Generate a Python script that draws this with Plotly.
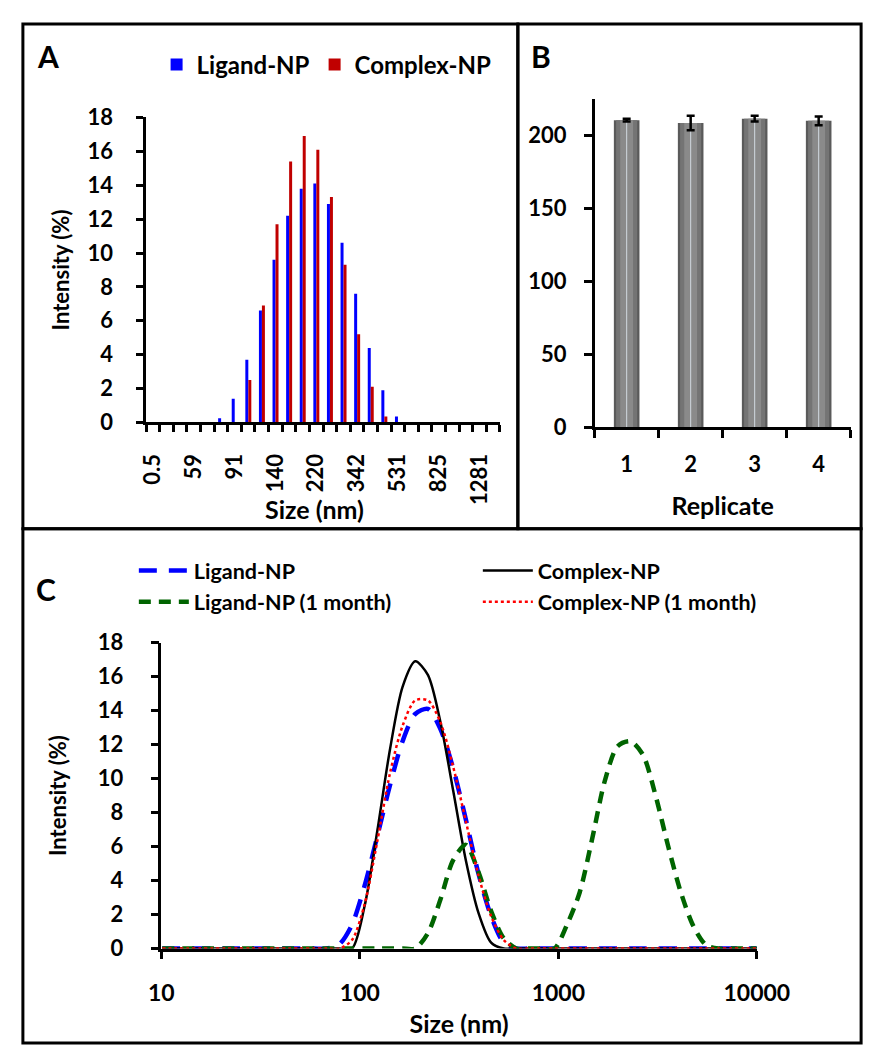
import plotly.graph_objects as go

W, H = 888, 1050
FONT = "Lato, 'Open Sans', sans-serif"

# ---------------- Panel A data ----------------
size_categories = ["0.5", "44", "51", "59", "68", "79", "91", "106", "122", "140",
                   "164", "190", "220", "255", "295", "342", "396", "459", "531",
                   "615", "712", "825", "955", "1106", "1281", "1484"]
ligand_A = [0, 0, 0, 0, 0, 0.25, 1.4, 3.7, 6.6, 9.6, 12.2, 13.8, 14.1, 12.9,
            10.6, 7.6, 4.4, 1.9, 0.35, 0, 0, 0, 0, 0, 0, 0]
complex_A = [0, 0, 0, 0, 0, 0, 0, 2.5, 6.9, 11.7, 15.4, 16.9, 16.1, 13.3,
             9.3, 5.2, 2.1, 0.35, 0, 0, 0, 0, 0, 0, 0, 0]

# ---------------- Panel B data ----------------
replicates = ["1", "2", "3", "4"]
replicate_size = [210.5, 208.5, 211.5, 210.0]
replicate_err = [1.0, 5.0, 2.0, 3.0]

# ---------------- Panel C data ----------------
sizes_C = [10.1, 11.7, 13.54, 15.69, 18.17, 21.04, 24.36, 28.21, 32.67, 37.84,
           43.82, 50.75, 58.77, 68.06, 78.82, 91.28, 105.7, 122.4, 141.8, 164.2,
           190.1, 220.2, 255.0, 295.3, 342.0, 396.1, 458.7, 531.2, 615.1, 712.4,
           825.0, 955.4, 1106, 1281, 1484, 1718, 1990, 2305, 2669, 3091,
           3580, 4145, 4801, 5560, 6439, 7456, 8635, 10000]
ligand_C = [0, 0, 0, 0, 0, 0, 0, 0, 0, 0,
            0, 0, 0, 0, 0.25, 1.4, 3.7, 6.6, 9.6, 12.2,
            13.8, 14.1, 12.9, 10.6, 7.6, 4.4, 1.9, 0.35, 0, 0,
            0, 0, 0, 0, 0, 0, 0, 0, 0, 0,
            0, 0, 0, 0, 0, 0, 0, 0]
complex_C = [0, 0, 0, 0, 0, 0, 0, 0, 0, 0,
             0, 0, 0, 0, 0, 0, 2.5, 6.9, 11.7, 15.4,
             16.9, 16.1, 13.3, 9.3, 5.2, 2.1, 0.35, 0, 0, 0,
             0, 0, 0, 0, 0, 0, 0, 0, 0, 0,
             0, 0, 0, 0, 0, 0, 0, 0]
ligand_month_C = [0, 0, 0, 0, 0, 0, 0, 0, 0, 0,
                  0, 0, 0, 0, 0, 0, 0, 0, 0, 0,
                  0, 0.9, 2.9, 5.2, 6.1, 4.5, 2.2, 0.6, 0, 0,
                  0, 0, 1.4, 3.3, 6.5, 9.9, 11.9, 12.2, 11.4, 9.0,
                  6.0, 3.3, 1.3, 0.2, 0, 0, 0, 0]
complex_month_C = [0, 0, 0, 0, 0, 0, 0, 0, 0, 0,
                   0, 0, 0, 0, 0, 0.5, 2.6, 6.3, 10.3, 13.1,
                   14.6, 14.6, 13.3, 10.7, 7.5, 4.3, 1.9, 0.5, 0, 0,
                   0, 0, 0, 0, 0, 0, 0, 0, 0, 0,
                   0, 0, 0, 0, 0, 0, 0, 0]
size_ticks_C = [10, 100, 1000, 10000]
size_ticklabels_C = ["10", "100", "1000", "10000"]


def px_x(p):
    return p / W


def px_y(p):
    return 1 - p / H


fig = go.Figure()

# ---- Panel A bars ----
xa = list(range(len(size_categories)))
fig.add_trace(go.Bar(x=xa, y=ligand_A, name="Ligand-NP", marker_color="#0000FF",
                     marker_line_width=0, width=0.22, offset=-0.21,
                     xaxis="x", yaxis="y", legend="legend"))
fig.add_trace(go.Bar(x=xa, y=complex_A, name="Complex-NP", marker_color="#C00000",
                     marker_line_width=0, width=0.22, offset=0.01,
                     xaxis="x", yaxis="y", legend="legend"))

# ---- Panel B bars (layered to imitate the cylinder shading) ----
for w, col in [(0.40, "#5a5a5a"), (0.33, "#747474"), (0.20, "#8a8a8a")]:
    fig.add_trace(go.Bar(x=replicates, y=replicate_size, width=w, offset=-w / 2,
                         marker_color=col, marker_line_width=0, showlegend=False,
                         xaxis="x2", yaxis="y2"))
fig.add_trace(go.Bar(x=replicates, y=replicate_size, width=0.001, offset=-0.0005,
                     marker_color="rgba(0,0,0,0)", showlegend=False,
                     error_y=dict(type="data", array=replicate_err, visible=True,
                                  color="black", thickness=2.5, width=4),
                     xaxis="x2", yaxis="y2"))

# ---- Panel C lines ----
fig.add_trace(go.Scatter(x=sizes_C, y=ligand_C, mode="lines", name="Ligand-NP",
                         line=dict(color="#0000FF", width=4.5, dash="18px,12px",
                                   shape="spline", smoothing=0.8),
                         xaxis="x3", yaxis="y3", legend="legend2"))
fig.add_trace(go.Scatter(x=sizes_C, y=complex_C, mode="lines", name="Complex-NP",
                         line=dict(color="black", width=2.5,
                                   shape="spline", smoothing=0.8),
                         xaxis="x3", yaxis="y3", legend="legend2"))
fig.add_trace(go.Scatter(x=sizes_C, y=ligand_month_C, mode="lines",
                         name="Ligand-NP (1 month)",
                         line=dict(color="#006400", width=4.5, dash="12px,8px",
                                   shape="spline", smoothing=0.8),
                         xaxis="x3", yaxis="y3", legend="legend3"))
fig.add_trace(go.Scatter(x=sizes_C, y=complex_month_C, mode="lines",
                         name="Complex-NP (1 month)",
                         line=dict(color="#FF0000", width=2.5, dash="dot",
                                   shape="spline", smoothing=0.8),
                         xaxis="x3", yaxis="y3", legend="legend3"))

axis_common = dict(showline=True, linecolor="black", linewidth=2.5, ticks="outside",
                   tickcolor="black", tickwidth=2.5, showgrid=False, zeroline=False,
                   fixedrange=True)
tickfont = dict(family=FONT, size=22, color="black", weight="bold")
xtickfont_A = dict(family=FONT, size=22, color="black", weight="bold")
tickfont_Cx = dict(family=FONT, size=23, color="black", weight="bold")
ytitlefont = dict(family=FONT, size=22, color="black", weight="bold")
xtitlefont = dict(family=FONT, size=25, color="black", weight="bold")
legfont_C = dict(family=FONT, size=21.5, color="black", weight="bold")

fig.update_layout(
    width=W, height=H, margin=dict(l=0, r=0, t=0, b=0),
    paper_bgcolor="white", plot_bgcolor="white",
    font=dict(family=FONT, color="black", weight="bold"),
    barmode="overlay",
    xaxis=dict(axis_common, domain=[px_x(132), px_x(505)], range=[-0.5, len(xa) - 0.5],
               anchor="y", tickmode="array", tickvals=xa[::3],
               ticktext=size_categories[::3], ticks="", tickangle=-90,
               tickfont=xtickfont_A, ticklabelstandoff=20,
               minor=dict(tickmode="array", tickvals=[i - 0.5 for i in range(len(xa) + 1)],
                          ticks="outside", ticklen=7, tickwidth=2.5, tickcolor="black")),
    yaxis=dict(axis_common, domain=[px_y(411), px_y(98)], range=[0, 18], dtick=2,
               anchor="x", ticklen=7, tickfont=tickfont, ticklabelstandoff=19,
               title=dict(text="Intensity (%)", font=ytitlefont, standoff=12)),
    xaxis2=dict(axis_common, domain=[px_x(605), px_x(875)], type="category",
                anchor="y2", tickson="boundaries", ticklen=8, tickfont=tickfont,
                ticklabelstandoff=16, range=[-0.5, 3.5],
                title=dict(text="Replicate", font=xtitlefont, standoff=22)),
    yaxis2=dict(axis_common, domain=[px_y(416), px_y(79)], range=[0, 225],
                tickvals=[0, 50, 100, 150, 200], anchor="x2", ticklen=8,
                tickfont=tickfont, ticklabelstandoff=13),
    xaxis3=dict(axis_common, domain=[px_x(148), px_x(776)], type="log", range=[1, 4],
                tickmode="array", tickvals=size_ticks_C, ticktext=size_ticklabels_C,
                anchor="y3", ticklen=8, tickfont=tickfont_Cx, ticklabelstandoff=14,
                title=dict(text="Size (nm)", font=xtitlefont, standoff=11)),
    yaxis3=dict(axis_common, domain=[px_y(951), px_y(637)], range=[0, 18], dtick=2,
                anchor="x3", ticklen=8, tickfont=tickfont, ticklabelstandoff=23,
                title=dict(text="Intensity (%)", font=ytitlefont, standoff=25)),
    legend=dict(orientation="h", x=px_x(143), y=px_y(21), xanchor="left",
                yanchor="top", font=dict(family=FONT, size=24, color="black",
                                          weight="bold"),
                bgcolor="rgba(0,0,0,0)", itemwidth=30),
    legend2=dict(orientation="h", x=px_x(119), y=px_y(542), xanchor="left",
                 yanchor="top", font=legfont_C,
                 bgcolor="rgba(0,0,0,0)", itemwidth=50, entrywidth=279,
                 entrywidthmode="pixels"),
    legend3=dict(orientation="h", x=px_x(119), y=px_y(574), xanchor="left",
                 yanchor="top", font=legfont_C,
                 bgcolor="rgba(0,0,0,0)", itemwidth=50, entrywidth=279,
                 entrywidthmode="pixels"),
)

# Panel A x-axis title (placed below the rotated size labels)
fig.add_annotation(text="Size (nm)", x=px_x(310), y=px_y(500), xref="paper",
                   yref="paper", showarrow=False, xanchor="center", yanchor="middle",
                   font=xtitlefont)

# Panel frames
for (x0, y0, x1, y1) in [(2, 2, 524, 520), (524, 2, 886, 520), (2, 520, 886, 1048)]:
    fig.add_shape(type="rect", xref="paper", yref="paper",
                  x0=px_x(x0), x1=px_x(x1), y0=px_y(y1), y1=px_y(y0),
                  line=dict(color="black", width=3), fillcolor="rgba(0,0,0,0)")

# Panel letters
for letter, (lx, ly) in {"A": (28, 35), "B": (548, 35), "C": (26, 582)}.items():
    fig.add_annotation(text=letter, x=px_x(lx), y=px_y(ly), xref="paper", yref="paper",
                       showarrow=False, xanchor="center", yanchor="middle",
                       font=dict(family=FONT, size=30, color="black", weight="bold"))

fig.write_html("out.html")
